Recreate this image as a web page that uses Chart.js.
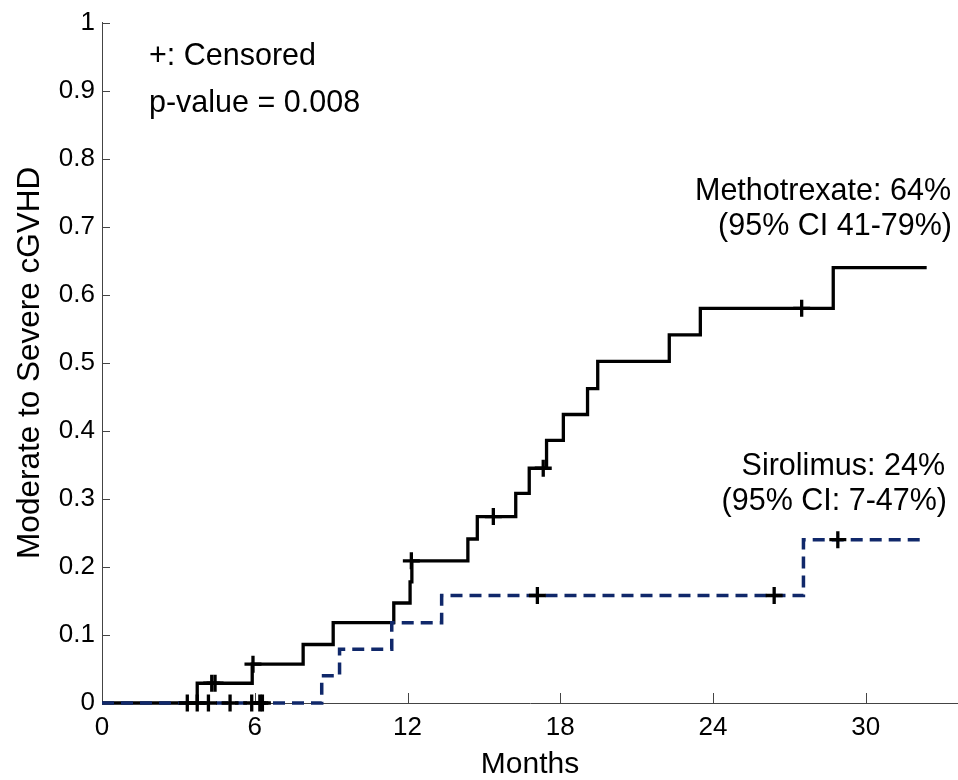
<!DOCTYPE html>
<html>
<head>
<meta charset="utf-8">
<script src="https://cdn.jsdelivr.net/npm/chart.js@4.4.1/dist/chart.umd.min.js"></script>
<style>
html,body{margin:0;padding:0;background:#fff;}
#wrap{width:958px;height:780px;position:relative;}
</style>
</head>
<body>
<div id="wrap"><canvas id="c" width="958" height="780"></canvas></div>
<script>
// ---- data ----
const xTicks = [0, 6, 12, 18, 24, 30];
const yTicks = [0, 0.1, 0.2, 0.3, 0.4, 0.5, 0.6, 0.7, 0.8, 0.9, 1];

// Methotrexate cumulative incidence (step after each event time)
const mtxMonths = [0, 3.74, 5.9, 7.9, 9.08, 11.46, 12.1, 12.17, 14.37, 14.74, 16.25, 16.78, 17.46, 18.12, 19.07, 19.47, 22.28, 23.5, 28.72, 32.39];
const mtxValues = [0, 0.029, 0.057, 0.086, 0.118, 0.147, 0.178, 0.209, 0.241, 0.274, 0.308, 0.345, 0.386, 0.424, 0.462, 0.502, 0.541, 0.58, 0.64, 0.64];

// Sirolimus cumulative incidence
const siroMonths = [0, 8.63, 9.33, 11.38, 13.34, 27.55, 32.3];
const siroValues = [0, 0.04, 0.079, 0.118, 0.158, 0.24, 0.24];

// Censored observations
const mtxCensorMonths = [4.31, 4.44, 5.93, 12.15, 15.37, 17.33, 27.48];
const mtxCensorValues = [0.029, 0.029, 0.057, 0.209, 0.274, 0.345, 0.58];
const siroCensorMonths = [3.35, 3.74, 4.18, 5.03, 5.88, 6.2, 6.3, 17.1, 26.4, 28.9];
const siroCensorValues = [0, 0, 0, 0, 0, 0, 0, 0.158, 0.158, 0.24];

const xMax = 33.62;

const zip = (xs, ys) => xs.map((x, i) => ({x: x, y: ys[i]}));
const FONT = '"Liberation Sans", Arial, Helvetica, sans-serif';

const inwardTicks = {
  id: 'inwardTicks',
  beforeDatasetsDraw(chart) {
    const {ctx, chartArea: a, scales: {x, y}} = chart;
    ctx.save();
    ctx.strokeStyle = '#444';
    ctx.lineWidth = 1;
    ctx.beginPath();
    x.ticks.forEach(t => {
      const px = Math.round(x.getPixelForValue(t.value)) + 0.5;
      ctx.moveTo(px, a.bottom);
      ctx.lineTo(px, a.bottom - 10);
    });
    y.ticks.forEach(t => {
      const py = Math.round(y.getPixelForValue(t.value)) + 0.5;
      ctx.moveTo(a.left, py);
      ctx.lineTo(a.left + 8, py);
    });
    ctx.stroke();
    ctx.restore();
  }
};

const annotations = {
  id: 'annotations',
  afterDraw(chart) {
    const {ctx} = chart;
    ctx.save();
    ctx.fillStyle = '#000';
    ctx.font = '30.5px ' + FONT;
    ctx.textBaseline = 'alphabetic';
    ctx.textAlign = 'left';
    ctx.fillText('+: Censored', 149, 65);
    ctx.fillText('p-value = 0.008', 149, 112);
    ctx.textAlign = 'right';
    ctx.fillText('Methotrexate: 64%', 951, 200);
    ctx.fillText('(95% CI 41-79%)', 952, 235);
    ctx.fillText('Sirolimus: 24%', 945, 475);
    ctx.fillText('(95% CI: 7-47%)', 947, 510);
    ctx.restore();
  }
};

new Chart(document.getElementById('c'), {
  type: 'line',
  data: {
    datasets: [
      {
        label: 'Methotrexate censored',
        type: 'scatter',
        data: zip(mtxCensorMonths, mtxCensorValues),
        pointStyle: 'cross',
        pointRadius: 8.5,
        pointBorderWidth: 3.3,
        borderColor: '#000',
        backgroundColor: '#000',
        showLine: false,
        clip: false,
        order: 0
      },
      {
        label: 'Sirolimus censored',
        type: 'scatter',
        data: zip(siroCensorMonths, siroCensorValues),
        pointStyle: 'cross',
        pointRadius: 8.5,
        pointBorderWidth: 3.3,
        borderColor: '#000',
        backgroundColor: '#000',
        showLine: false,
        clip: false,
        order: 0
      },
      {
        label: 'Sirolimus',
        data: zip(siroMonths, siroValues),
        stepped: 'before',
        borderColor: '#10286a',
        borderWidth: 3.5,
        borderDash: [12, 7],
        pointRadius: 0,
        fill: false,
        clip: false,
        order: 1
      },
      {
        label: 'Methotrexate',
        data: zip(mtxMonths, mtxValues),
        stepped: 'before',
        borderColor: '#000',
        borderWidth: 3.3,
        pointRadius: 0,
        fill: false,
        clip: false,
        order: 2
      }
    ]
  },
  options: {
    responsive: false,
    animation: false,
    events: [],
    layout: {autoPadding: false, padding: {top: 20, right: 0, left: 0, bottom: 0}},
    plugins: {legend: {display: false}, tooltip: {enabled: false}},
    scales: {
      x: {
        type: 'linear',
        min: 0,
        max: xMax,
        afterBuildTicks: s => { s.ticks = xTicks.map(v => ({value: v})); },
        afterFit: s => { s.height = 77; },
        grid: {display: false, drawTicks: false},
        border: {display: true, color: '#444', width: 1},
        ticks: {
          color: '#000',
          font: {family: FONT, size: 26},
          padding: 9,
          maxRotation: 0,
          autoSkip: false,
          callback: v => String(v)
        },
        title: {
          display: true,
          text: 'Months',
          color: '#000',
          font: {family: FONT, size: 30, lineHeight: 1},
          padding: {top: 0, bottom: 0}
        }
      },
      y: {
        type: 'linear',
        min: 0,
        max: 1,
        afterBuildTicks: s => { s.ticks = yTicks.map(v => ({value: v})); },
        afterFit: s => { s.width = 102; },
        grid: {display: false, drawTicks: false},
        border: {display: true, color: '#444', width: 1},
        ticks: {
          color: '#000',
          font: {family: FONT, size: 26},
          padding: 7,
          autoSkip: false,
          callback: v => String(v)
        },
        title: {
          display: true,
          text: 'Moderate to Severe cGVHD',
          color: '#000',
          font: {family: FONT, size: 31.5, lineHeight: 1},
          padding: {top: 15, bottom: 0}
        }
      }
    }
  },
  plugins: [inwardTicks, annotations]
});
</script>
</body>
</html>
